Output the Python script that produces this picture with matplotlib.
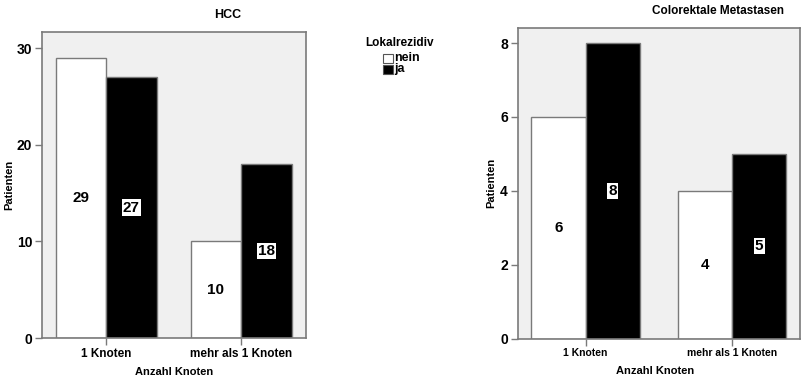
import matplotlib
matplotlib.use("Agg")
import matplotlib.pyplot as plt
import numpy as np
from matplotlib.patches import Rectangle

plt.rcParams['font.family'] = ['Liberation Sans', 'DejaVu Sans']

categories = ["1 Knoten", "mehr als 1 Knoten"]
series_names = ["nein", "ja"]
hcc_nein = [29, 10]
hcc_ja = [27, 18]
crc_nein = [6, 4]
crc_ja = [8, 5]

W, H = 801, 381
fig = plt.figure(figsize=(W / 100, H / 100), dpi=100)
fig.patch.set_facecolor("white")

frame_col = "#7a7a7a"
bg_col = "#f0f0f0"


def panel(rect, nein, ja, ymax, yticks, xlim, bw, tick_fs):
    ax = fig.add_axes(rect)
    ax.set_facecolor(bg_col)
    x = np.arange(len(categories))
    ax.bar(x - bw / 2, nein, bw, color="white", edgecolor=frame_col, linewidth=1.0, zorder=2)
    ax.bar(x + bw / 2, ja, bw, color="black", edgecolor=frame_col, linewidth=1.0, zorder=2)
    for xi, v in zip(x, nein):
        ax.text(xi - bw / 2, v / 2, str(v), ha="center", va="center",
                fontsize=11, fontweight="bold", color="black", zorder=3)
    for xi, v in zip(x, ja):
        ax.text(xi + bw / 2, v / 2, str(v), ha="center", va="center",
                fontsize=11, fontweight="bold", color="black", zorder=3,
                bbox=dict(boxstyle="square,pad=0.08", facecolor="white", edgecolor="none"))
    ax.set_xlim(*xlim)
    ax.set_ylim(0, ymax)
    ax.set_yticks(yticks)
    ax.set_xticks(x)
    ax.set_xticklabels(categories, fontsize=tick_fs, fontweight="bold")
    for lab in ax.get_yticklabels():
        lab.set_fontsize(10)
        lab.set_fontweight("bold")
    ax.tick_params(axis="both", direction="out", length=5, width=1, color=frame_col, pad=2)
    for s in ax.spines.values():
        s.set_color(frame_col)
        s.set_linewidth(1.2)
    return ax


ax1 = panel([42 / W, 1 - 338 / H, 264 / W, 306 / H], hcc_nein, hcc_ja,
            31.7, [0, 10, 20, 30], (-0.474, 1.48), 0.374, 8.5)
ax2 = panel([517.5 / W, 1 - 338.5 / H, 282.5 / W, 310.5 / H], crc_nein, crc_ja,
            8.41, [0, 2, 4, 6, 8], (-0.465, 1.465), 0.371, 7.5)

# titles and axis labels
fig.text(228 / W, 1 - 15 / H, "HCC", ha="center", va="center", fontsize=9, fontweight="bold")
fig.text(718 / W, 1 - 11 / H, "Colorektale Metastasen", ha="center", va="center",
         fontsize=8.5, fontweight="bold")
fig.text(9 / W, 1 - 185 / H, "Patienten", rotation=90, ha="center", va="center",
         fontsize=8, fontweight="bold")
fig.text(491 / W, 1 - 183 / H, "Patienten", rotation=90, ha="center", va="center",
         fontsize=8, fontweight="bold")
fig.text(174 / W, 1 - 372 / H, "Anzahl Knoten", ha="center", va="center",
         fontsize=8, fontweight="bold")
fig.text(655 / W, 1 - 371 / H, "Anzahl Knoten", ha="center", va="center",
         fontsize=8, fontweight="bold")

# legend
fig.text(400 / W, 1 - 43 / H, "Lokalrezidiv", ha="center", va="center",
         fontsize=8.5, fontweight="bold")
for i, (name, fc) in enumerate(zip(series_names, ["white", "black"])):
    yc = 58 + i * 11
    fig.patches.append(Rectangle((383 / W, 1 - (yc + 4.5) / H), 10 / W, 9 / H,
                                 transform=fig.transFigure, facecolor=fc,
                                 edgecolor="#555555", linewidth=0.8))
    fig.text(394.5 / W, 1 - yc / H, name, ha="left", va="center",
             fontsize=9, fontweight="bold")

fig.savefig("out.png", dpi=100)
